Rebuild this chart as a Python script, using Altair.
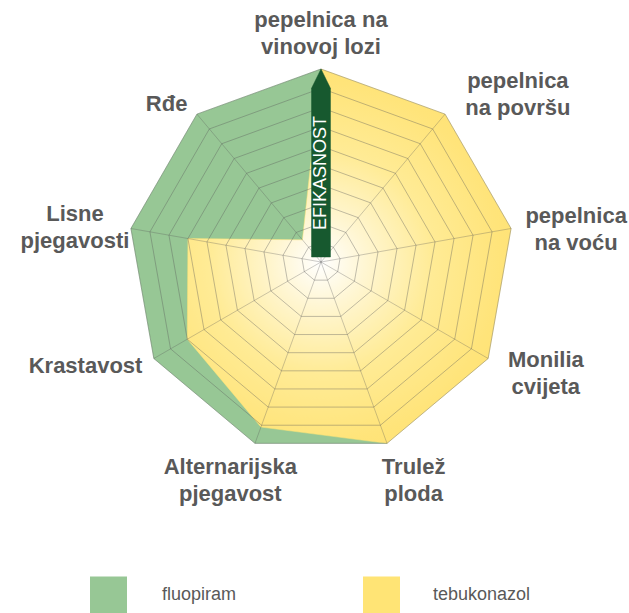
import math
import altair as alt
import pandas as pd

# ---------------- data ----------------
categories = [
    "pepelnica na vinovoj lozi", "pepelnica na površu", "pepelnica na voću",
    "Monilia cvijeta", "Trulež ploda", "Alternarijska pjegavost",
    "Krastavost", "Lisne pjegavosti", "Rđe",
]
label_text = [
    "pepelnica na\nvinovoj lozi", "pepelnica\nna površu", "pepelnica\nna voću",
    "Monilia\ncvijeta", "Trulež\nploda", "Alternarijska\npjegavost",
    "Krastavost", "Lisne\npjegavosti", "Rđe",
]
series = ["fluopiram", "tebukonazol"]
fluopiram = [10, 2, 2, 2, 10, 10, 10, 10, 10]
tebukonazol = [10, 10, 10, 10, 10, 9.1, 8.0, 7.0, 1.5]
ring_levels = [1, 2, 3, 4, 5, 6, 7, 8, 9, 10]
MAX_V = 10
axis_title = "EFIKASNOST"

# ---------------- layout / style ----------------
W, H = 629, 613
CX, CY, R = 321, 262, 193          # pixel centre and radius of the web
GREEN = "#97c795"
YELLOW = "#ffe475"
ARROW = "#17592f"
TEXT = "#595959"
FONT = "Liberation Sans"

# label anchors (chart units, radius = 1) - first line of each label
label_pos = [(0.0, 1.255), (1.02, 0.94), (1.322, 0.24), (1.165, -0.51), (0.48, -1.06),
             (-0.47, -1.06), (-1.22, -0.54), (-1.275, 0.25), (-0.80, 0.82)]
# arrow outline (chart units)
arrow_x = [-0.049, -0.049, 0.0, 0.049, 0.049, -0.049]
arrow_y = [0.026, 0.90, 1.0, 0.90, 0.026, 0.026]

n = len(categories)


def to_xy(v, i):
    a = 2 * math.pi * i / n
    r = v / MAX_V
    return r * math.sin(a), r * math.cos(a)


rows = []
for s, vals in zip(series, [fluopiram, tebukonazol]):
    for k in range(n + 1):
        i = k % n
        x, y = to_xy(vals[i], i)
        rows.append({"series": s, "cat": categories[i], "value": vals[i], "x": x, "y": y, "o": k})
poly = pd.DataFrame(rows)

grid_rows = []
for lv in ring_levels:
    for k in range(n + 1):
        x, y = to_xy(lv, k % n)
        grid_rows.append({"ring": lv, "x": x, "y": y, "o": k})
grid = pd.DataFrame(grid_rows)

spk = []
for i in range(n):
    x, y = to_xy(MAX_V, i)
    spk.append({"x0": 0.0, "y0": 0.0, "x1": x, "y1": y})
spokes = pd.DataFrame(spk)

lab = pd.DataFrame({"label": label_text, "x": [p[0] for p in label_pos], "y": [p[1] for p in label_pos]})
arrow = pd.DataFrame({"x": arrow_x, "y": arrow_y, "o": list(range(len(arrow_x)))})

X_DOM = [-CX / R, (W - CX) / R]
Y_DOM = [(CY - H) / R, CY / R]
xs = alt.Scale(domain=X_DOM, nice=False, zero=False)
ys = alt.Scale(domain=Y_DOM, nice=False, zero=False)


def X(f):
    return alt.X(f, scale=xs, axis=None)


def Y(f):
    return alt.Y(f, scale=ys, axis=None)


green = alt.Chart(poly).transform_filter(alt.datum.series == "fluopiram").mark_line(
    fill=GREEN, stroke=GREEN, strokeWidth=0.5
).encode(x=X("x:Q"), y=Y("y:Q"), order="o:Q")

yellow_grad = {
    "gradient": "radial",
    "stops": [
        {"color": "#ffffff", "offset": 0},
        {"color": "#fff6d2", "offset": 0.2},
        {"color": "#ffeb95", "offset": 0.5},
        {"color": "#ffe47a", "offset": 0.8},
        {"color": "#ffe170", "offset": 1},
    ],
    "x1": 0.424, "y1": 0.516, "r1": 0, "x2": 0.424, "y2": 0.516, "r2": 0.6,
}
yellow = alt.Chart(poly).transform_filter(alt.datum.series == "tebukonazol").mark_line(
    fill=yellow_grad, stroke=YELLOW, strokeWidth=0.5
).encode(x=X("x:Q"), y=Y("y:Q"), order="o:Q")

rings = alt.Chart(grid).mark_line(stroke="#5a5a5a", strokeWidth=0.7, opacity=0.55).encode(
    x=X("x:Q"), y=Y("y:Q"), detail="ring:N", order="o:Q"
)
spoke_marks = alt.Chart(spokes).mark_rule(stroke="#5a5a5a", strokeWidth=0.7, opacity=0.45).encode(
    x=X("x0:Q"), y=Y("y0:Q"), x2=alt.X2("x1"), y2=alt.Y2("y1")
)

arrow_mark = alt.Chart(arrow).mark_line(fill=ARROW, stroke=ARROW, strokeWidth=0.5).encode(
    x=X("x:Q"), y=Y("y:Q"), order="o:Q"
)
arrow_text = alt.Chart(pd.DataFrame({"t": [axis_title], "x": [0.0], "y": [0.461]})).mark_text(
    angle=270, color="white", fontSize=18, font=FONT, align="center", baseline="middle"
).encode(x=X("x:Q"), y=Y("y:Q"), text="t:N")

labels = alt.Chart(lab).mark_text(
    font=FONT, fontSize=22, fontWeight="bold", color=TEXT, align="center",
    baseline="middle", lineHeight=27, lineBreak="\n"
).encode(x=X("x:Q"), y=Y("y:Q"), text="label:N")

leg = pd.DataFrame({"series": series, "x": [(108.5 - CX) / R, (381.5 - CX) / R],
                    "tx": [(162 - CX) / R, (433 - CX) / R], "y": [(CY - 595) / R] * 2})
leg_sq = alt.Chart(leg).mark_square(size=37 * 37, opacity=1).encode(
    x=X("x:Q"), y=Y("y:Q"),
    color=alt.Color("series:N", scale=alt.Scale(domain=series, range=[GREEN, YELLOW]), legend=None),
)
leg_tx = alt.Chart(leg).mark_text(font=FONT, fontSize=18, color=TEXT, align="left", baseline="middle").encode(
    x=X("tx:Q"), y=Y("y:Q"), text="series:N"
)

chart = alt.layer(green, yellow, rings, spoke_marks, arrow_mark, arrow_text, labels, leg_sq, leg_tx).properties(
    width=W, height=H, autosize=alt.AutoSizeParams(type="none"), padding=0
).configure_view(stroke=None)

chart.save("out.html", embed_options={"renderer": "svg", "actions": False})
